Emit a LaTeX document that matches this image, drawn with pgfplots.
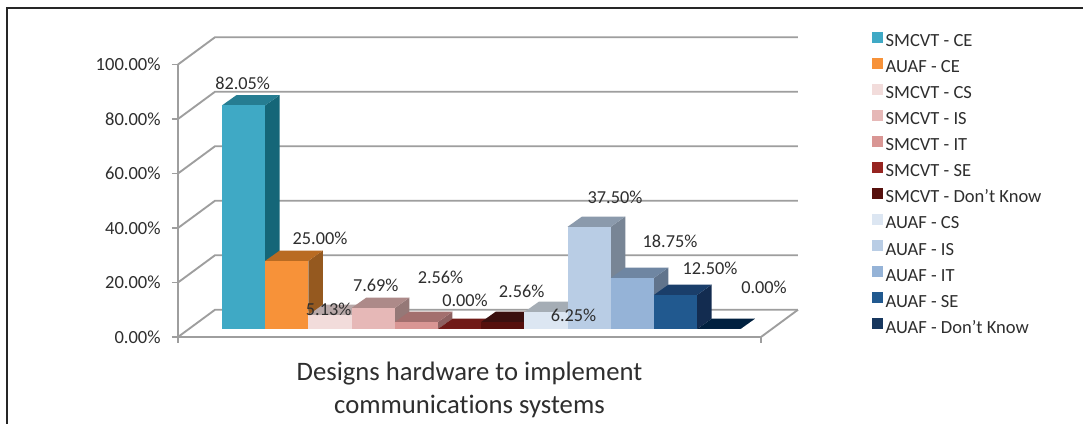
\documentclass[border=0pt]{standalone}
\usepackage{pgfplots}
\pgfplotsset{compat=1.18}
\usepackage{fontspec}
\setmainfont[Ligatures={NoCommon}]{Carlito}
\definecolor{tc}{HTML}{2E2E2E}
\definecolor{gl}{HTML}{9E9E9E}
\definecolor{c1}{HTML}{3FA9C5}\definecolor{s1}{HTML}{156678}\definecolor{t1}{HTML}{267D92}
\definecolor{c2}{HTML}{F79239}\definecolor{s2}{HTML}{95591F}\definecolor{t2}{HTML}{B96B22}
\definecolor{c3}{HTML}{F2DCDB}\definecolor{s3}{HTML}{A09292}\definecolor{t3}{HTML}{B8A8A8}
\definecolor{c4}{HTML}{E6B8B7}\definecolor{s4}{HTML}{957877}\definecolor{t4}{HTML}{AD8A89}
\definecolor{c5}{HTML}{D99694}\definecolor{s5}{HTML}{8D6060}\definecolor{t5}{HTML}{A36F6E}
\definecolor{c6}{HTML}{962420}\definecolor{s6}{HTML}{601513}\definecolor{t6}{HTML}{701A17}
\definecolor{c7}{HTML}{56100D}\definecolor{s7}{HTML}{33100E}\definecolor{t7}{HTML}{3B100F}
\definecolor{c8}{HTML}{DCE6F2}\definecolor{s8}{HTML}{8F969E}\definecolor{t8}{HTML}{A5ADB5}
\definecolor{c9}{HTML}{B9CDE5}\definecolor{s9}{HTML}{788595}\definecolor{t9}{HTML}{8B9AAC}
\definecolor{c10}{HTML}{95B3D7}\definecolor{s10}{HTML}{61748C}\definecolor{t10}{HTML}{6F86A2}
\definecolor{c11}{HTML}{21598F}\definecolor{s11}{HTML}{132C50}\definecolor{t11}{HTML}{1A3E6A}
\definecolor{c12}{HTML}{17375E}\definecolor{s12}{HTML}{001A33}\definecolor{t12}{HTML}{00203F}
\newcommand\wall[1]{%
  \pgfmathsetmacro\wy{#1+10}%
  \edef\temp{\noexpand\addplot[gl,line width=1.4pt,forget plot,mark=none] coordinates {(-1.0185,#1)(-0.162,\wy)(13.333,\wy)};}\temp}
\newcommand\dbar[4]{% index, value, colour number, legend text
  \pgfmathsetmacro\xa{#1}\pgfmathsetmacro\xb{#1+1}%
  \pgfmathsetmacro\xc{#1+0.3356}\pgfmathsetmacro\xd{#1+1.3356}%
  \pgfmathsetmacro\vt{#2+3.78}\pgfmathsetmacro\xm{#1+0.5}%
  \edef\temp{\noexpand\addplot[fill=s#3,draw=none,yshift=6pt,forget plot,mark=none] coordinates {(\xb,0)(\xd,3.78)(\xd,\vt)(\xb,#2)} --cycle;
  \noexpand\addplot[fill=t#3,draw=none,yshift=6pt,forget plot,mark=none] coordinates {(\xa,#2)(\xc,\vt)(\xd,\vt)(\xb,#2)} --cycle;
  \noexpand\addplot[ybar,bar width=1,bar shift=0pt,fill=c#3,draw=none,yshift=6pt] coordinates {(\xm,#2)};}\temp
  \addlegendentry{#4}}
\newcommand\lb[3]{\node[text=tc,font=\fontsize{13.7pt}{16pt}\selectfont,inner sep=0pt] at ({#1*0.75pt},{(424-#2)*0.75pt}) {#3};}
\begin{document}
\begin{tikzpicture}
\useasboundingbox (0,0) rectangle (812.25pt,318pt);
\fill[white] (0,0) rectangle (812.25pt,318pt);
\draw[color=black!85,line width=1.2pt] (5.25pt,0) -- (5.25pt,312pt) -- (812.25pt,312pt);
\begin{axis}[
  at={(133.5pt,65.25pt)},anchor=south west,
  scale only axis,width=437.25pt,height=204.375pt,
  xmin=-1.0185,xmax=12.477,ymin=0,ymax=100,
  clip=false,
  axis x line*=bottom,axis y line*=left,
  axis line style={-,gl,line width=1.4pt},
  tick style={gl,line width=1.1pt},
  tick align=outside,major tick length=4.5pt,
  xtick={-1.0185,12.477},xticklabels={},
  ytick={0,20,40,60,80,100},
  yticklabel={\pgfmathprintnumber[fixed,fixed zerofill,precision=2,assume math mode=true]{\tick}\%},
  yticklabel style={font=\fontsize{13.9pt}{16pt}\selectfont,text=tc,xshift=-5pt},
  xlabel={Designs hardware to implement\\communications systems},
  xlabel style={at={(axis description cs:0.5,0)},anchor=north,align=center,text=tc,
    font=\fontsize{20pt}{24.8pt}\selectfont,yshift=-18.75pt,inner sep=0pt},
  legend image code/.code={\fill[#1,draw=none] (0pt,-6pt) rectangle (8.25pt,2.25pt);},
  legend style={at={(1.19,1.122)},anchor=north west,draw=none,fill=none,inner sep=0pt,
    row sep=5.3pt,column sep=2pt,
    nodes={inner sep=0pt,text height=9pt,text depth=3pt,anchor=west,text=tc,font=\fontsize{13.9pt}{15pt}\selectfont}},
  legend cell align=left,
]
\wall{0}\wall{20}\wall{40}\wall{60}\wall{80}\wall{100}
\addplot[gl,line width=1.4pt,forget plot,mark=none] coordinates {(12.477,0)(13.333,10)};
\dbar{0}{82.05}{1}{SMCVT - CE}
\dbar{1}{25.00}{2}{AUAF - CE}
\dbar{2}{5.13}{3}{SMCVT - CS}
\dbar{3}{7.69}{4}{SMCVT - IS}
\dbar{4}{2.56}{5}{SMCVT - IT}
\dbar{5}{0.00}{6}{SMCVT - SE}
\dbar{6}{2.56}{7}{SMCVT - Don’t Know}
\dbar{7}{6.25}{8}{AUAF - CS}
\dbar{8}{37.50}{9}{AUAF - IS}
\dbar{9}{18.75}{10}{AUAF - IT}
\dbar{10}{12.50}{11}{AUAF - SE}
\dbar{11}{0.00}{12}{AUAF - Don’t Know}
\end{axis}
\lb{242.7}{83}{82.05\%}
\lb{320}{238}{25.00\%}
\lb{328.7}{309.7}{5.13\%}
\lb{375.8}{285}{7.69\%}
\lb{440.5}{277}{2.56\%}
\lb{465}{300.7}{0.00\%}
\lb{521.7}{291}{2.56\%}
\lb{573.5}{315}{6.25\%}
\lb{615}{197.7}{37.50\%}
\lb{670}{241}{18.75\%}
\lb{710}{268}{12.50\%}
\lb{764}{287.7}{0.00\%}
\end{tikzpicture}
\end{document}
